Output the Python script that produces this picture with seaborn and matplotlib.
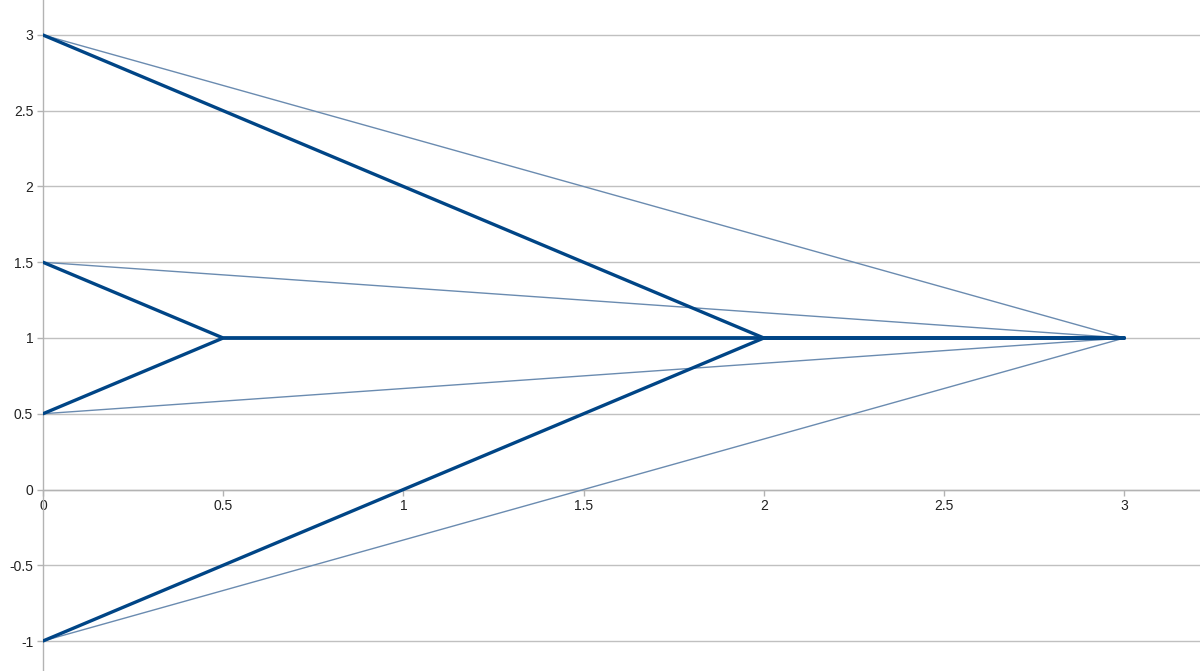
import matplotlib
matplotlib.use("Agg")
import matplotlib.pyplot as plt
import seaborn as sns
import pandas as pd

# thick paths (converging through the middle line y = 1)
thick_x = [
    [0, 2, 3],
    [0, 0.5, 3],
    [0, 0.5, 3],
    [0, 2, 3],
]
thick_y = [
    [3, 1, 1],
    [1.5, 1, 1],
    [0.5, 1, 1],
    [-1, 1, 1],
]

# thin straight paths to (3, 1)
thin_x = [
    [0, 3],
    [0, 3],
    [0, 3],
    [0, 3],
]
thin_y = [
    [3, 1],
    [1.5, 1],
    [0.5, 1],
    [-1, 1],
]

x_ticks = [0, 0.5, 1, 1.5, 2, 2.5, 3]
y_ticks = [-1, -0.5, 0, 0.5, 1, 1.5, 2, 2.5, 3]


def to_frame(xs, ys):
    rows = []
    for i, (xx, yy) in enumerate(zip(xs, ys)):
        for a, b in zip(xx, yy):
            rows.append({"path": i, "x": a, "y": b})
    return pd.DataFrame(rows)


thick_df = to_frame(thick_x, thick_y)
thin_df = to_frame(thin_x, thin_y)

sns.set_theme(style="white")
plt.rcParams["font.family"] = ["Liberation Sans", "DejaVu Sans"]

fig = plt.figure(figsize=(12, 6.71), dpi=100)
ax = fig.add_axes([0.0358, 0.0, 0.9642, 1.0])

sns.lineplot(data=thin_df, x="x", y="y", units="path", estimator=None, sort=False,
             color="#6a8bb0", linewidth=1.0, ax=ax, zorder=3)
sns.lineplot(data=thick_df, x="x", y="y", units="path", estimator=None, sort=False,
             color="#004586", linewidth=2.4, ax=ax, zorder=4)

ax.set_xlim(0, 3.21)
ax.set_ylim(-1.198, 3.231)
ax.set_xticks(x_ticks)
ax.set_yticks(y_ticks)
ax.set_xticklabels([f"{v:g}" for v in x_ticks])
ax.set_yticklabels([f"{v:g}" for v in y_ticks])

ax.yaxis.grid(True, color="#c0c0c0", linewidth=1.0)
ax.xaxis.grid(False)
ax.set_axisbelow(True)

for s in ["top", "right"]:
    ax.spines[s].set_visible(False)
ax.spines["bottom"].set_position(("data", 0))
ax.spines["left"].set_position(("data", 0))
for s in ["bottom", "left"]:
    ax.spines[s].set_color("#b3b3b3")
    ax.spines[s].set_linewidth(1.0)

ax.tick_params(axis="both", which="both", direction="out", length=4, width=1,
               color="#b3b3b3", labelsize=10, labelcolor="#222222", pad=3,
               bottom=True, left=True)

ax.set_xlabel("")
ax.set_ylabel("")

fig.savefig("out.png", dpi=100)
